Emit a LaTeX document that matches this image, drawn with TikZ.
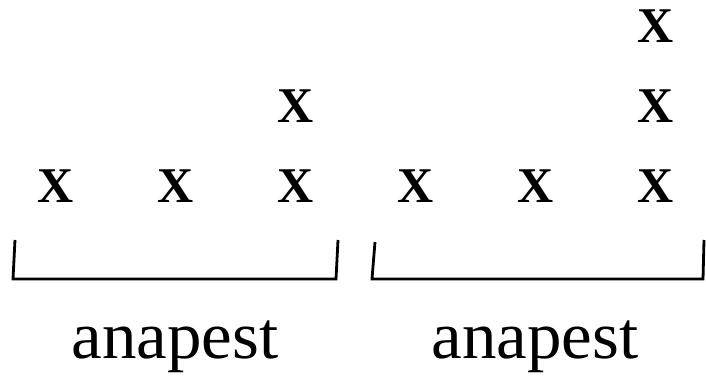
\documentclass[tikz,border=0pt]{standalone}
\usepackage{fontspec}
\setmainfont{Liberation Serif}
\begin{document}
\begin{tikzpicture}[x=1pt,y=1pt,
  gridx/.style={inner sep=0pt, outer sep=0pt, font=\fontsize{50}{50}\selectfont\bfseries},
  footlabel/.style={inner sep=0pt, outer sep=0pt, anchor=base, font=\fontsize{67}{67}\selectfont},
  bracketline/.style={line width=2.8pt, line join=miter}]
\useasboundingbox (0,0) rectangle (706,376);
% bottom row
\node[gridx] (b1) at (56,190) {X};
\node[gridx] (b2) at (176,190) {X};
\node[gridx] (b3) at (296,190) {X};
\node[gridx] (b4) at (416,190) {X};
\node[gridx] (b5) at (536,190) {X};
\node[gridx] (b6) at (656,190) {X};
% middle row
\node[gridx] (m3) at (296,270) {X};
\node[gridx] (m6) at (656,270) {X};
% top row
\node[gridx] (t6) at (656,350) {X};
% brackets
\coordinate (l1) at (15,136);
\coordinate (l2) at (13,97);
\coordinate (l3) at (336,97);
\coordinate (l4) at (338,136);
\coordinate (r1) at (375,134);
\coordinate (r2) at (372,97);
\coordinate (r3) at (703,97);
\coordinate (r4) at (704,136);
\draw[bracketline] (l1) -- (l2) -- (l3) -- (l4);
\draw[bracketline] (r1) -- (r2) -- (r3) -- (r4);
% labels
\node[footlabel] (lab1) at (175,18) {\scalebox{1.03}[1]{anapest}};
\node[footlabel] (lab2) at (535,18) {\scalebox{1.03}[1]{anapest}};
\end{tikzpicture}
\end{document}
